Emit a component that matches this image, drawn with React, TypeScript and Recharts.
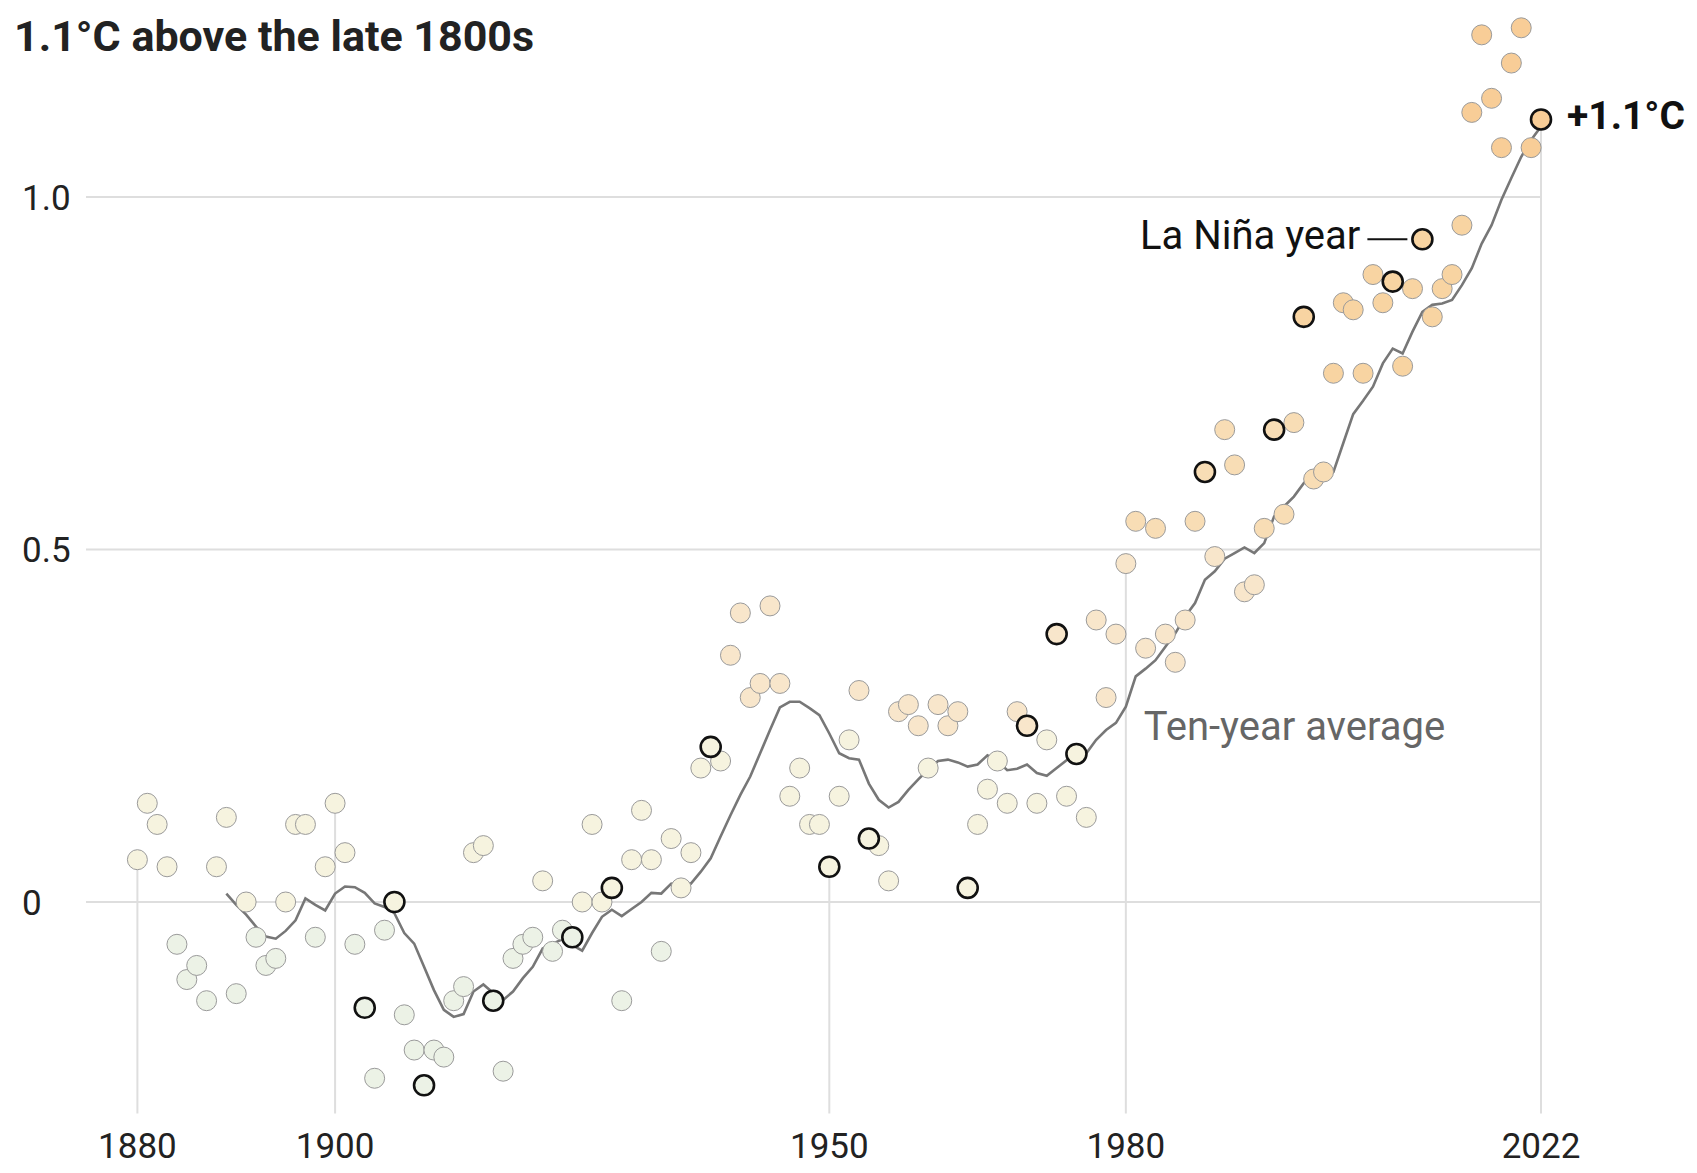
import React from "react";
import { ComposedChart, Line, Scatter, XAxis, YAxis, CartesianGrid, ReferenceLine, ReferenceDot } from "recharts";

// annual temperature anomaly, °C above the late 1800s, 1880-2022
const FIRST_YEAR = 1880;
const TEMPS = [
  0.06, 0.14, 0.11, 0.05, -0.06, -0.11, -0.09, -0.14, 0.05, 0.12,
  -0.13, 0.0, -0.05, -0.09, -0.08, 0.0, 0.11, 0.11, -0.05, 0.05,
  0.14, 0.07, -0.06, -0.15, -0.25, -0.04, 0.0, -0.16, -0.21, -0.26,
  -0.21, -0.22, -0.14, -0.12, 0.07, 0.08, -0.14, -0.24, -0.08, -0.06,
  -0.05, 0.03, -0.07, -0.04, -0.05, 0.0, 0.11, 0.0, 0.02, -0.14,
  0.06, 0.13, 0.06, -0.07, 0.09, 0.02, 0.07, 0.19, 0.22, 0.2,
  0.35, 0.41, 0.29, 0.31, 0.42, 0.31, 0.15, 0.19, 0.11, 0.11,
  0.05, 0.15, 0.23, 0.3, 0.09, 0.08, 0.03, 0.27, 0.28, 0.25,
  0.19, 0.28, 0.25, 0.27, 0.02, 0.11, 0.16, 0.2, 0.14, 0.27,
  0.25, 0.14, 0.23, 0.38, 0.15, 0.21, 0.12, 0.4, 0.29, 0.38,
  0.48, 0.54, 0.36, 0.53, 0.38, 0.34, 0.4, 0.54, 0.61, 0.49,
  0.67, 0.62, 0.44, 0.45, 0.53, 0.67, 0.55, 0.68, 0.83, 0.6,
  0.61, 0.75, 0.85, 0.84, 0.75, 0.89, 0.85, 0.88, 0.76, 0.87,
  0.94, 0.83, 0.87, 0.89, 0.96, 1.12, 1.23, 1.14, 1.07, 1.19,
  1.24, 1.07, 1.11,
];
const LA_NINA_YEARS = [1903, 1906, 1909, 1916, 1924, 1928, 1938, 1950, 1954, 1964, 1970, 1973, 1975, 1988, 1995, 1998, 2007, 2010, 2022];

// ten-year average, 1889-2022
const AVG_START = 1889;
const TEN_YEAR_AVG = [
  0.012,
  -0.004, -0.018, -0.035, -0.049, -0.052, -0.041, -0.026, 0.005, -0.004, -0.012,
  0.012, 0.022, 0.021, 0.013, -0.002, -0.007, -0.016, -0.044, -0.059, -0.092,
  -0.125, -0.153, -0.163, -0.159, -0.127, -0.117, -0.129, -0.139, -0.127, -0.108,
  -0.092, -0.066, -0.059, -0.053, -0.061, -0.069, -0.044, -0.021, -0.011, -0.02,
  -0.01, 0.0, 0.013, 0.012, 0.026, 0.028, 0.026, 0.043, 0.062, 0.093,
  0.123, 0.152, 0.178, 0.211, 0.244, 0.276, 0.284, 0.284, 0.275, 0.265,
  0.239, 0.211, 0.204, 0.202, 0.168, 0.145, 0.134, 0.142, 0.159, 0.174,
  0.188, 0.2, 0.202, 0.198, 0.192, 0.195, 0.208, 0.2, 0.187, 0.189,
  0.195, 0.183, 0.179, 0.19, 0.201, 0.213, 0.211, 0.23, 0.244, 0.254,
  0.277, 0.32, 0.331, 0.343, 0.362, 0.381, 0.405, 0.424, 0.457, 0.469,
  0.487, 0.495, 0.503, 0.495, 0.509, 0.547, 0.561, 0.575, 0.594, 0.606,
  0.599, 0.61, 0.651, 0.692, 0.711, 0.731, 0.764, 0.785, 0.778, 0.809,
  0.837, 0.847, 0.849, 0.854, 0.875, 0.899, 0.934, 0.96, 0.996, 1.027,
  1.057, 1.081, 1.1,
];

const X_TICKS = [1880, 1900, 1950, 1980, 2022];
const Y_TICKS = [0, 0.5, 1];
const Y_TICK_LABELS = ["0", "0.5", "1.0"];
const Y_MIN = -0.3;
const Y_MAX = 1.25;

const points = TEMPS.map((temp, i) => ({ year: FIRST_YEAR + i, temp }));
const regular = points.filter(p => !LA_NINA_YEARS.includes(p.year));
const laNina = points.filter(p => LA_NINA_YEARS.includes(p.year));
const avgData = TEN_YEAR_AVG.map((avg, i) => ({ year: AVG_START + i, avg }));
const tempOf = (yr: number) => TEMPS[yr - FIRST_YEAR];

const FONT = "Roboto, 'Liberation Sans', sans-serif";

function dotFill(v: number) {
  if (v < 0) return "#ecf2e6";
  if (v < 0.25) return "#f6f3df";
  if (v < 0.5) return "#f8e6cb";
  if (v < 0.75) return "#f8ddb5";
  if (v < 1) return "#f8d4a2";
  return "#f8cd97";
}

const PlainDot = (p: any) => (
  <circle cx={p.cx} cy={p.cy} r={10} fill={dotFill(p.payload.temp)} stroke="#9a9a9a" strokeWidth={1} />
);
const NinaDot = (p: any) => (
  <circle cx={p.cx} cy={p.cy} r={10} fill={dotFill(p.payload.temp)} stroke="#111" strokeWidth={2.6} />
);

export default function App() {
  return (
    <div style={{ position: "relative", width: 1697, height: 1173, background: "#fff", fontFamily: FONT }}>
      <style>{"body{margin:0}"}</style>
      <ComposedChart width={1697} height={1173} data={avgData} margin={{ top: 20.75, right: 156, bottom: 0, left: 0 }}>
        <CartesianGrid vertical={false} horizontalValues={Y_TICKS} stroke="#dedede" strokeWidth={2} />
        <XAxis
          dataKey="year" type="number" domain={[1874.8, 2022]} ticks={X_TICKS} height={59.5}
          axisLine={false} tickLine={false} tickSize={0} tickMargin={0} interval={0}
          tick={(p: any) => (
            <text x={p.x} y={p.y} dy={44.5} textAnchor="middle" fontSize={35} fill="#222" fontFamily={FONT}>{p.payload.value}</text>
          )}
        />
        <YAxis
          type="number" domain={[Y_MIN, Y_MAX]} ticks={Y_TICKS} width={86}
          axisLine={false} tickLine={false} tickSize={0} interval={0}
          tick={(p: any) => (
            <text x={22} y={p.y} dy={12.5} textAnchor="start" fontSize={35} fill="#222" fontFamily={FONT}>
              {Y_TICK_LABELS[Y_TICKS.indexOf(p.payload.value)]}
            </text>
          )}
        />
        {X_TICKS.map(yr => (
          <ReferenceLine key={yr} segment={[{ x: yr, y: Y_MIN }, { x: yr, y: tempOf(yr) }]} stroke="#dedede" strokeWidth={2} />
        ))}
        <Scatter data={regular} dataKey="temp" shape={PlainDot} isAnimationActive={false} />
        <Scatter data={laNina} dataKey="temp" shape={NinaDot} isAnimationActive={false} />
        <Line dataKey="avg" type="linear" stroke="#777" strokeWidth={2.6} dot={false} activeDot={false} isAnimationActive={false} />
        <ReferenceDot
          x={1981} y={0.23} r={1}
          shape={(p: any) => (
            <text x={p.cx + 8} y={p.cy} fontSize={40} fill="#666" fontFamily={FONT}>Ten-year average</text>
          )}
        />
        <ReferenceDot
          x={2010} y={tempOf(2010)} r={10}
          shape={(p: any) => (
            <g>
              <line x1={p.cx - 55} x2={p.cx - 15} y1={p.cy} y2={p.cy} stroke="#111" strokeWidth={2} />
              <text x={p.cx - 62} y={p.cy + 10} textAnchor="end" fontSize={40} fill="#111" fontFamily={FONT}>La Niña year</text>
            </g>
          )}
        />
        <ReferenceDot
          x={2022} y={tempOf(2022)} r={10}
          shape={(p: any) => (
            <text x={p.cx + 26} y={p.cy + 10} fontSize={39} fontWeight={700} fill="#111" fontFamily={FONT}>+1.1°C</text>
          )}
        />
      </ComposedChart>
      <div style={{ position: "absolute", left: 14, top: 15, fontSize: 43, lineHeight: "42px", fontWeight: 700, color: "#222", whiteSpace: "nowrap" }}>
        1.1°C above the late 1800s
      </div>
    </div>
  );
}
